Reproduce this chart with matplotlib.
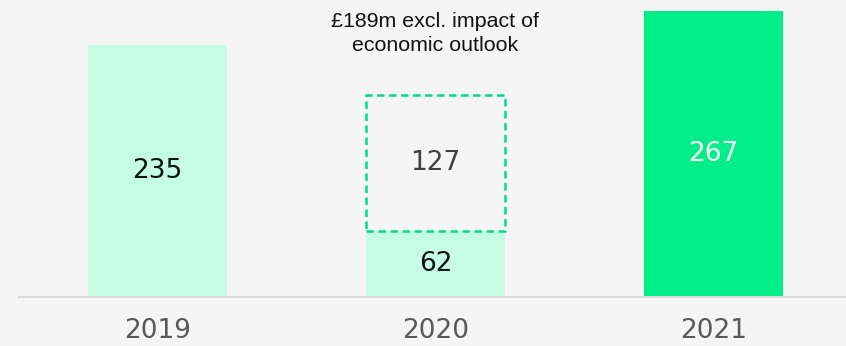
import matplotlib.pyplot as plt

# Underlying figures (GBP m)
years = ['2019', '2020', '2021']
reported = [235, 62, 267]
outlook_impact = [0, 127, 0]  # only 2020 carries the economic outlook adjustment
note_2020 = '£189m excl. impact of\neconomic outlook'

light_green = '#c4fde3'
bright_green = '#00ee88'
dash_green = '#00dd88'
background = '#f5f5f5'

fig = plt.figure(figsize=(8.46, 3.46), dpi=100, facecolor=background)
ax = fig.add_axes([19 / 846, 49 / 346, 827 / 846, 297 / 346], facecolor=background)

x = range(len(years))
bar_colors = [light_green, light_green, bright_green]
text_colors = ['#111111', '#111111', 'white']

ax.bar(x, reported, width=0.5, color=bar_colors, linewidth=0)

# dashed outline stacked on top of 2020 for the excluded impact
ax.bar(1, outlook_impact[1], bottom=reported[1], width=0.5, fill=False,
       edgecolor=dash_green, linewidth=1.8, linestyle=(0, (3, 1.8)))

for i, val in enumerate(reported):
    ax.text(i, val / 2, str(val), ha='center', va='center',
            fontsize=19, color=text_colors[i])

ax.text(1, reported[1] + outlook_impact[1] / 2, str(outlook_impact[1]),
        ha='center', va='center', fontsize=19, color='#404040')

ax.text(1, 0.887, note_2020, transform=ax.get_xaxis_transform(),
        ha='center', va='center', fontsize=15.4, linespacing=1.38,
        family='Liberation Sans', color='#111111')

ax.set_xlim(-0.498, 2.477)
ax.set_ylim(0, 277.3)
ax.set_xticks(list(x))
ax.set_xticklabels(years, fontsize=19, color='#595959')
ax.tick_params(axis='x', length=0, pad=15)
ax.set_yticks([])

for side in ('top', 'right', 'left'):
    ax.spines[side].set_visible(False)
ax.spines['bottom'].set_color('#d9d9d9')
ax.spines['bottom'].set_linewidth(1.5)

fig.savefig('out.png', dpi=100, facecolor=background)
